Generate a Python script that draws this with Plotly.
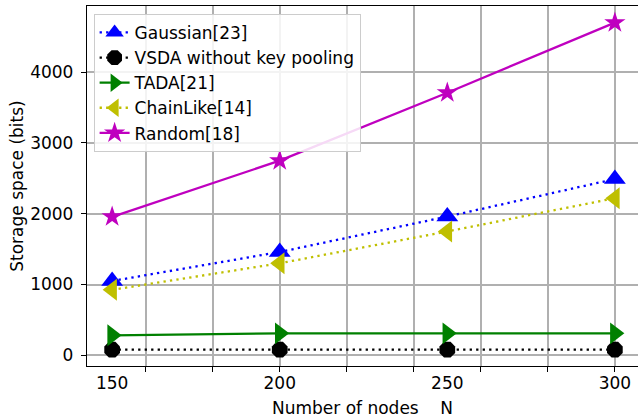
import plotly.graph_objects as go

nodes = [150, 200, 250, 300]
gaussian = [1050, 1460, 1960, 2490]
vsda = [80, 80, 80, 80]
tada = [283, 310, 310, 310]
chainlike = [925, 1300, 1750, 2220]
random_ = [1957, 2750, 3710, 4700]

x_labels = [150, 200, 250, 300]
x_grid = [160, 180, 200, 220, 240, 260, 280, 300]
y_ticks = [0, 1000, 2000, 3000, 4000]

FONT = "DejaVu Sans"
FS = 17
DOT = "2.3px,4.2px"

series = [
    ("Gaussian[23]", gaussian, "#0000ff", DOT, "triangle-up", 19),
    ("VSDA without key pooling", vsda, "#000000", DOT, "octagon", 17),
    ("TADA[21]", tada, "#008000", "solid", "triangle-right", 19),
    ("ChainLike[14]", chainlike, "#bfbf00", DOT, "triangle-left", 19),
    ("Random[18]", random_, "#bf00bf", "solid", "star", 16),
]

fig = go.Figure()
for i, (name, vals, col, dash, sym, size) in enumerate(series):
    fig.add_trace(go.Scatter(
        x=nodes, y=vals, name=name, mode="lines+markers",
        line=dict(color=col, width=2.3, dash=dash),
        marker=dict(symbol=sym, size=size, color=col, line=dict(width=0)),
        legendgroup=f"g{i}",
    ))

# overlay axis used only for the tick labels
fig.add_trace(go.Scatter(x=[], y=[], xaxis="x2", showlegend=False, hoverinfo="skip"))

xr = [142.5, 306.9]
fig.update_layout(
    width=638, height=418,
    margin=dict(l=87, r=0, t=6, b=52),
    paper_bgcolor="white", plot_bgcolor="white",
    font=dict(family=FONT, size=FS, color="black"),
    showlegend=True,
    legend=dict(
        x=0.012, y=0.978, xanchor="left", yanchor="top",
        bgcolor="rgba(255,255,255,0.85)", bordercolor="#cccccc", borderwidth=1,
        font=dict(family=FONT, size=FS, color="black"),
        tracegroupgap=0, itemwidth=30,
    ),
    xaxis=dict(
        range=xr, tickmode="array", tickvals=x_grid, showticklabels=False,
        ticks="outside", ticklen=5, tickwidth=1.2, tickcolor="black",
        showgrid=True, gridcolor="#b0b0b0", gridwidth=1.6,
        showline=True, linecolor="black", linewidth=1.4, mirror=True,
        zeroline=False,
        title=dict(text="Number of nodes\u00a0\u00a0\u00a0 N", font=dict(size=FS), standoff=30),
    ),
    xaxis2=dict(
        range=xr, overlaying="x", side="bottom", tickmode="array",
        tickvals=x_labels, ticktext=[str(v) for v in x_labels],
        ticks="", showgrid=False, zeroline=False, showline=False,
        tickfont=dict(size=FS), ticklabelstandoff=5,
    ),
    yaxis=dict(
        range=[-151, 4935], tickmode="array", tickvals=y_ticks,
        ticks="outside", ticklen=5, tickwidth=1.2, tickcolor="black",
        showgrid=True, gridcolor="#b0b0b0", gridwidth=1.6,
        showline=True, linecolor="black", linewidth=1.4, mirror=False,
        zeroline=False, ticklabelstandoff=4,
        title=dict(text="Storage space (bits)", font=dict(size=FS), standoff=2),
    ),
)

fig.write_html("out.html")
